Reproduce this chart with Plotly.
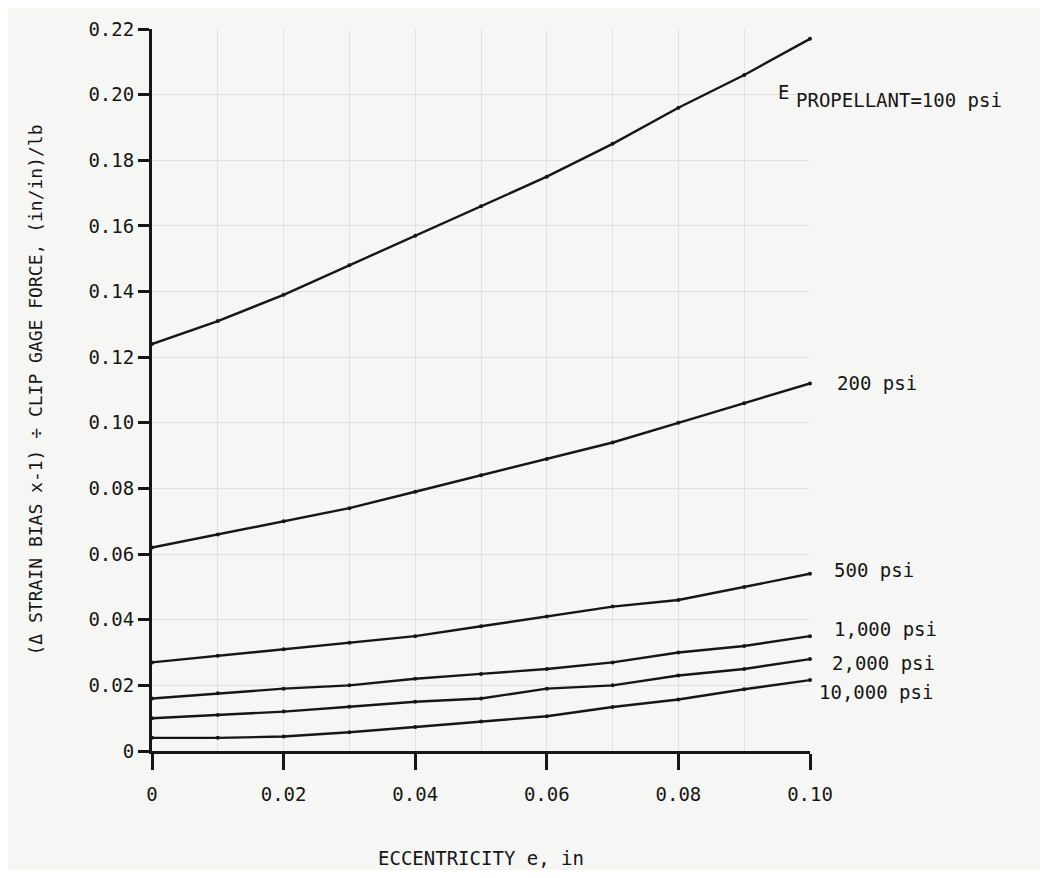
import plotly.graph_objects as go

# ---- data ----
ecc = [0.00, 0.01, 0.02, 0.03, 0.04, 0.05, 0.06, 0.07, 0.08, 0.09, 0.10]
e100 = [0.124, 0.131, 0.139, 0.148, 0.157, 0.166, 0.175, 0.185, 0.196, 0.206, 0.217]
e200 = [0.062, 0.066, 0.070, 0.074, 0.079, 0.084, 0.089, 0.094, 0.100, 0.106, 0.112]
e500 = [0.027, 0.029, 0.031, 0.033, 0.035, 0.038, 0.041, 0.044, 0.046, 0.050, 0.054]
e1000 = [0.016, 0.0176, 0.019, 0.020, 0.022, 0.0235, 0.025, 0.027, 0.030, 0.032, 0.035]
e2000 = [0.010, 0.011, 0.012, 0.0135, 0.015, 0.016, 0.019, 0.020, 0.023, 0.025, 0.028]
e10000 = [0.004, 0.004, 0.0044, 0.0057, 0.0073, 0.009, 0.0106, 0.0134, 0.0157, 0.0188, 0.0216]

series_names = ["100 psi", "200 psi", "500 psi", "1,000 psi", "2,000 psi", "10,000 psi"]
series_vals = [e100, e200, e500, e1000, e2000, e10000]
series_labels = ["PROPELLANT=100 psi", "200 psi", "500 psi", "1,000 psi", "2,000 psi", "10,000 psi"]
label_prefix = "E"

x_tickvals = [0.00, 0.02, 0.04, 0.06, 0.08, 0.10]
x_ticktext = ["0", "0.02", "0.04", "0.06", "0.08", "0.10"]
y_tickvals = [0.00, 0.02, 0.04, 0.06, 0.08, 0.10, 0.12, 0.14, 0.16, 0.18, 0.20, 0.22]
y_ticktext = ["0", "0.02", "0.04", "0.06", "0.08", "0.10", "0.12", "0.14", "0.16", "0.18", "0.20", "0.22"]

x_title = "ECCENTRICITY e, in"
y_title = "(\u0394 STRAIN BIAS x-1) \u00f7 CLIP GAGE FORCE, (in/in)/lb"

# ---- styling ----
FONT = "DejaVu Sans Mono"
INK = "#161616"
PAPER = "#f6f6f4"
GRID = "#e2e2e0"

# label offsets (pixels) relative to the end of each curve
label_dx = [-16, 25, 22, 22, 20, 7]
label_dy = [-61, 0, 4, 7, -4, -12]

fig = go.Figure()
for name, vals in zip(series_names, series_vals):
    fig.add_trace(go.Scatter(
        x=ecc, y=vals, name=name, mode="lines+markers",
        line=dict(color=INK, width=2.4),
        marker=dict(color=INK, size=4),
        cliponaxis=False, showlegend=False,
    ))

for lab, vals, dx, dy in zip(series_labels, series_vals, label_dx, label_dy):
    fig.add_annotation(
        x=ecc[-1], y=vals[-1], xref="x", yref="y", text=lab,
        showarrow=False, xanchor="left", yanchor="middle",
        xshift=dx, yshift=dy,
        font=dict(family=FONT, size=19, color=INK),
    )
# the "E" of E_PROPELLANT, set a little higher than its subscript
fig.add_annotation(
    x=ecc[-1], y=e100[-1], xref="x", yref="y", text=label_prefix,
    showarrow=False, xanchor="left", yanchor="middle",
    xshift=-34, yshift=-53,
    font=dict(family=FONT, size=19, color=INK),
)

fig.update_layout(
    width=1032, height=862,
    margin=dict(l=144, r=230, t=21, b=119, autoexpand=False),
    paper_bgcolor=PAPER, plot_bgcolor=PAPER,
    font=dict(family=FONT, size=18, color=INK),
)

fig.update_xaxes(
    range=[0, 0.10], tickvals=x_tickvals, ticktext=x_ticktext,
    showline=True, linewidth=3, linecolor=INK,
    ticks="outside", ticklen=16, tickwidth=3, tickcolor=INK,
    ticklabelstandoff=8, automargin=False,
    tickfont=dict(family=FONT, size=19, color=INK),
    showgrid=True, gridcolor=GRID, gridwidth=1,
    minor=dict(dtick=0.01, showgrid=True, gridcolor=GRID, gridwidth=1, ticks=""),
    zeroline=False,
    title=dict(text=x_title, font=dict(family=FONT, size=19, color=INK), standoff=48),
)
fig.update_yaxes(
    range=[0, 0.22], tickvals=y_tickvals, ticktext=y_ticktext,
    showline=True, linewidth=3, linecolor=INK,
    ticks="outside", ticklen=11, tickwidth=3, tickcolor=INK,
    automargin=False,
    tickfont=dict(family=FONT, size=19, color=INK),
    showgrid=True, gridcolor=GRID, gridwidth=1,
    zeroline=False,
    title=dict(text=y_title, font=dict(family=FONT, size=18, color=INK), standoff=42),
)

fig.write_html("out.html")
